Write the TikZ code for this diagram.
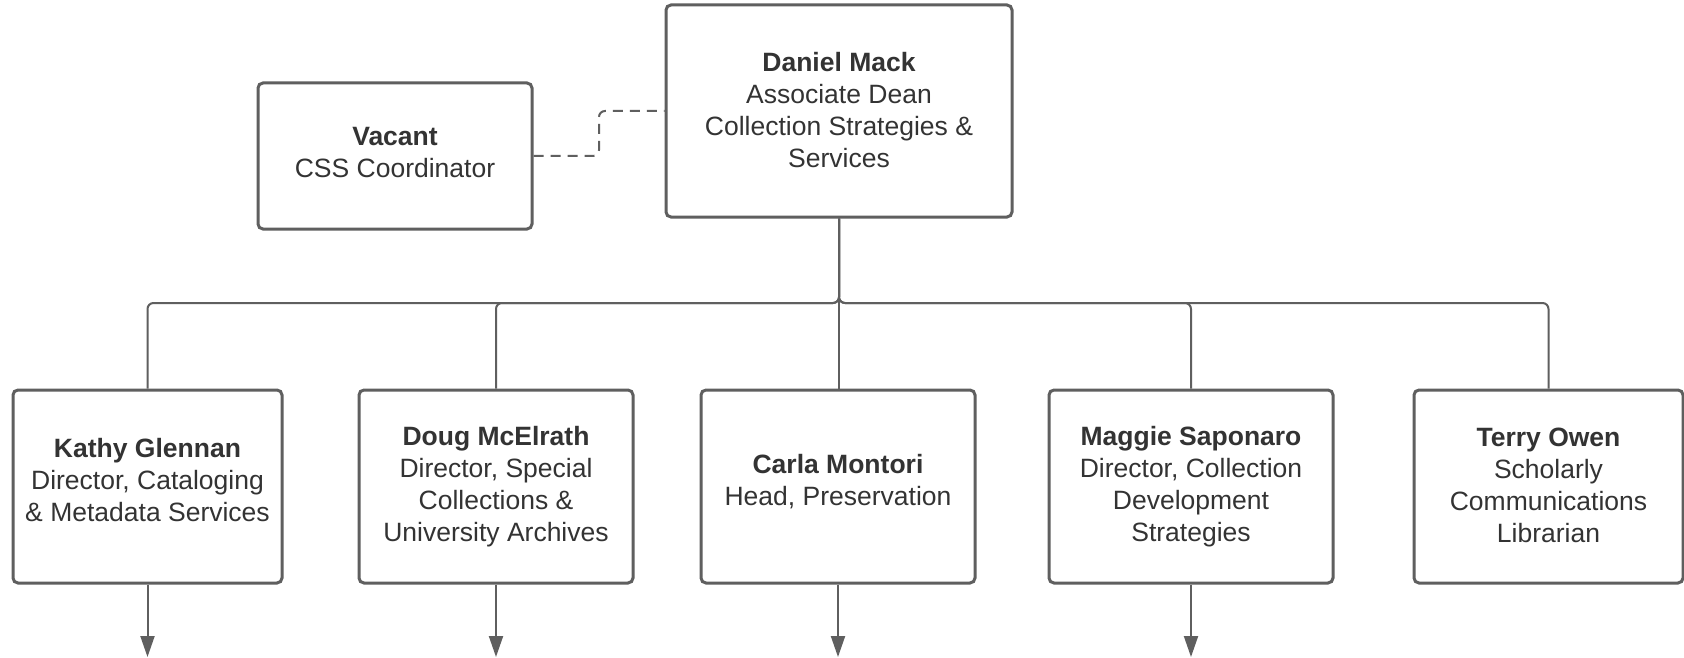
\documentclass[tikz,border=0pt]{standalone}
\usepackage{fontspec}
\setmainfont{Liberation Sans}
\usetikzlibrary{arrows.meta}
\definecolor{linegray}{HTML}{5F5F5F}
\definecolor{textgray}{HTML}{333333}
\tikzset{
  box/.style={draw=linegray, line width=3pt, rounded corners=5pt, fill=white,
    inner sep=0pt},
  txt/.style={align=center, text=textgray, font=\fontsize{26.5}{32}\selectfont, inner sep=0pt},
  conn/.style={draw=linegray, line width=2pt, rounded corners=6pt},
  dashconn/.style={draw=linegray, line width=2pt, rounded corners=6pt, dash pattern=on 10pt off 7pt},
  arr/.style={draw=linegray, line width=2pt, -{Triangle[length=21pt,width=14pt]}},
}
\begin{document}
\begin{tikzpicture}[x=1pt,y=-1pt]
\useasboundingbox[fill=white] (0,0) rectangle (1684,658);
\coordinate (bus) at (839,303);
\coordinate (dj) at (599,111);
% boxes
\node[box, minimum width=346pt, minimum height=212pt] (dm) at (839,111) {};
\node[box, minimum width=274pt, minimum height=146pt] (vac) at (395,156) {};
\node[box, minimum width=269pt, minimum height=193pt] (kg) at (147.5,486.5) {};
\node[box, minimum width=274pt, minimum height=193pt] (dmc) at (496,486.5) {};
\node[box, minimum width=274pt, minimum height=193pt] (cm) at (838,486.5) {};
\node[box, minimum width=284pt, minimum height=193pt] (ms) at (1191,486.5) {};
\node[box, minimum width=269pt, minimum height=193pt] (to) at (1548.5,486.5) {};
% texts
\node[txt] (dmt) at ([yshift=1pt]dm.center)
  {\textbf{Daniel Mack}\\Associate Dean\\Collection Strategies \&\\Services};
\node[txt] (vact) at ([yshift=3.5pt]vac.center)
  {\textbf{Vacant}\\CSS Coordinator};
\node[txt] (kgt) at ([yshift=6.5pt]kg.center)
  {\textbf{Kathy Glennan}\\Director, Cataloging\\\& Metadata Services};
\node[txt] (dmct) at (dmc.center)
  {\textbf{Doug McElrath}\\Director, Special\\Collections \&\\University Archives};
\node[txt] (cmt) at ([yshift=4.5pt]cm.center)
  {\textbf{Carla Montori}\\Head, Preservation};
\node[txt] (mst) at (ms.center)
  {\textbf{Maggie Saponaro}\\Director, Collection\\Development\\Strategies};
\node[txt] (tot) at ([yshift=1pt]to.center)
  {\textbf{Terry Owen}\\Scholarly\\Communications\\Librarian};
% org connectors
\draw[conn] (dm.south) -- (dm.south |- bus) -| (kg.north);
\draw[conn] (dm.south) -- (dm.south |- bus) -| (dmc.north);
\draw[conn] (dm.south) -- (dm.south |- cm.north);
\draw[conn] (dm.south) -- (dm.south |- bus) -| (ms.north);
\draw[conn] (dm.south) -- (dm.south |- bus) -| (to.north);
% dashed
\draw[dashconn] (vac.east) -| (dj) -- (dm.west);
% arrows down
\coordinate (a1) at (147.5,657);
\coordinate (a2) at (496,657);
\coordinate (a3) at (838,657);
\coordinate (a4) at (1191,657);
\draw[arr] (kg.south) -- (a1);
\draw[arr] (dmc.south) -- (a2);
\draw[arr] (cm.south) -- (a3);
\draw[arr] (ms.south) -- (a4);
\end{tikzpicture}
\end{document}
